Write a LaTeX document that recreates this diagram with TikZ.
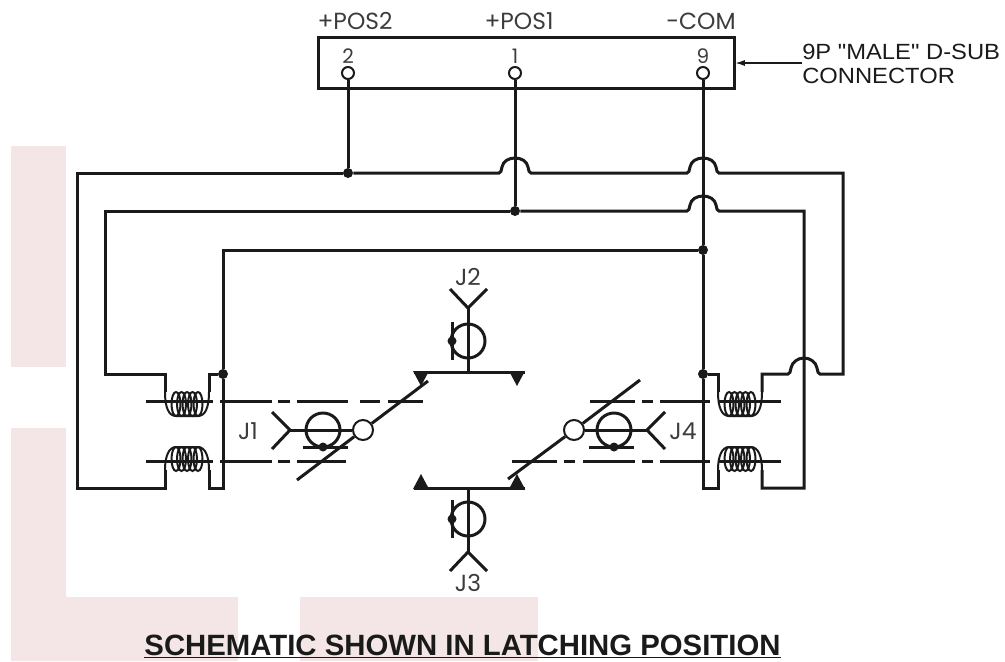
\documentclass[tikz,border=0pt]{standalone}
\usepackage{fontspec}
\setmainfont{Liberation Sans}
\newfontfamily\gothic{Poppins}
\newfontfamily\callout[FakeStretch=1.08]{Liberation Sans}
\usepackage{xcolor}
\usetikzlibrary{positioning,calc,arrows.meta}
\definecolor{blush}{HTML}{F4E6E6}
\definecolor{inkline}{HTML}{1A1A1A}
\newcommand{\hop}[2]{-- ({#1-16},#2) .. controls ({#1-14},#2) and ({#1-14},{#2-2}) .. ({#1-13},{#2-6}) .. controls ({#1-12},{#2-12}) and ({#1-6},{#2-15}) .. (#1,{#2-15}) .. controls ({#1+6},{#2-15}) and ({#1+12},{#2-12}) .. ({#1+13},{#2-6}) .. controls ({#1+14},{#2-2}) and ({#1+14},#2) .. ({#1+16},#2)}
\tikzset{
    wire/.style={inkline, line width=2.25pt},
    thin wire/.style={inkline, line width=1.5pt},
    junction/.style={circle, fill=inkline, inner sep=0pt, minimum size=7.5pt},
    pinhole/.style={circle, draw=inkline, fill=white, line width=1.5pt, inner sep=0pt, minimum size=9pt},
    pivot/.style={circle, draw=inkline, fill=white, line width=1.5pt, inner sep=0pt, minimum size=15pt},
    gothiclabel/.style={inkline!85, font=\gothic\fontsize{17.5}{18}\selectfont, inner sep=0pt},
    pinlabel/.style={inkline!85, font=\gothic\fontsize{15}{16}\selectfont, inner sep=0pt},
}
\begin{document}
\begin{tikzpicture}[x=0.75pt, y=-0.75pt]
    \useasboundingbox (0,0) rectangle (1005,661);

    % Background patches
    \fill[blush] (11,146) rectangle (66,367);
    \fill[blush] (11,428) -- (66,428) -- (66,597) -- (238,597) -- (238,661) -- (11,661) -- cycle;
    \fill[blush] (300,597) rectangle (538,661);

    % D-sub connector
    \node[draw=inkline, line width=2.25pt, minimum width=312pt, minimum height=38pt, inner sep=0pt] (dsub) at (526,63) {};
    \node[pinhole] (pintwo) at (348,73) {};
    \node[pinhole] (pinone) at (515,73) {};
    \node[pinhole] (pinnine) at (703,73) {};
    \node[pinlabel] (numtwo) at (348,56) {2};
    \node[pinlabel] (numone) at (515,56) {1};
    \node[pinlabel] (numnine) at (703,56) {9};
    \node[gothiclabel] (lblpostwo) at (355,21) {+POS2};
    \node[gothiclabel] (lblposone) at (519,21) {+POS1};
    \node[gothiclabel] (lblcom) at (701,21) {-COM};

    % Connector callout
    \node[anchor=west, inkline, font=\callout\fontsize{16.5}{18}\selectfont, align=left, inner sep=0pt] (lbldsub) at (802,64) {9P "MALE" D-SUB\\CONNECTOR};
    \draw[inkline, line width=0.8pt, -{Latex[length=7pt,width=4.5pt]}] (lbldsub.west |- dsub) -- (dsub.east);

    % Junctions
    \node[junction] (jtwo) at (348,173) {};
    \node[junction] (jone) at (515,211) {};
    \node[junction] (jcom) at (703,250) {};
    \node[junction] (jcomlow) at (703,374) {};
    \node[junction] (jleft) at (223,374) {};

    % Pin wires
    \draw[wire] (pintwo) -- (jtwo);
    \draw[wire] (pinone) -- (jone);
    \draw[wire] (pinnine) -- (jcom);
    \draw[wire] (jcom) -- (jcomlow);
    \draw[wire] (jcomlow) -- (703,488) -- (718,488) -- (718,470);

    % Outer wire, +POS2
    \draw[wire] (jtwo) -| (77,488) -- (165,488) -- (165,470);
    \draw[wire] (jtwo) \hop{515}{173} \hop{703}{173} -- (843,173) -- (843,374) -- (820,374)
        .. controls (818,374) and (818,372) .. (817,368) .. controls (816,362) and (810,358) .. (804,358)
        .. controls (798,358) and (792,362) .. (791,368) .. controls (790,372) and (790,374) .. (788,374)
        -- (762,374) -- (762,392);

    % Middle wire, +POS1
    \draw[wire] (jone) -| (105,374) -- (165,374) -- (165,392);
    \draw[wire] (jone) \hop{703}{211} -- (804,211) -- (804,488) -- (762,488) -- (762,470);

    % Inner wire, -COM
    \draw[wire] (jcom) -| (jleft);
    \draw[wire] (jleft) -- (223,488) -- (209,488) -- (209,470);
    \draw[wire] (jleft) -- (209,374) -- (209,392);
    \draw[wire] (jcomlow) -- (718,374) -- (718,392);

    % Coils
    \foreach \cx/\lx/\rx in {0/165/209, 553/718/762} {
        \foreach \n in {0,1,2,3,4} {
            \draw[thin wire] ({\cx+176+\n*5.5},404) ellipse (4.5 and 12);
            \draw[thin wire] ({\cx+176+\n*5.5},459) ellipse (4.5 and 12);
        }
        \draw[thin wire] (\lx,392) .. controls (\lx,408) and (\lx+4,416) .. (\lx+11,416) -- (\rx-11,416) .. controls (\rx-4,416) and (\rx,408) .. (\rx,392);
        \draw[thin wire] (\lx,470) .. controls (\lx,456) and (\lx+4,447) .. (\lx+11,447) -- (\rx-11,447) .. controls (\rx-4,447) and (\rx,456) .. (\rx,470);
    }

    % Core lines
    \foreach \xa/\xb in {146/213, 220/272, 278/290, 297/348, 360/380, 388/423, 590/635, 642/653, 660/710, 718/781} {
        \draw[wire] (\xa,401) -- (\xb,401);
    }
    \foreach \xa/\xb in {146/213, 220/272, 278/290, 297/346, 512/557, 564/575, 583/635, 642/653, 660/710, 718/781} {
        \draw[wire] (\xa,461) -- (\xb,461);
    }

    % J1 and J4 actuators
    \foreach \mx/\sx/\tag in {0/1/one, 937/-1/four} {
        \node[pivot] (pivot\tag) at ({\mx+\sx*363},430) {};
        \draw[wire] ({\mx+\sx*272},412) -- ({\mx+\sx*290},430) -- ({\mx+\sx*272},449);
        \draw[wire] ({\mx+\sx*290},430) -- (pivot\tag);
        \draw[wire] ({\mx+\sx*323},430) circle (17);
        \draw[wire] ({\mx+\sx*303},447) -- ({\mx+\sx*348},447);
        \fill[inkline] ({\mx+\sx*323},447) circle (4.5);
    }

    % J2 and J3 actuators
    \foreach \ty/\sy/\tag in {0/1/two, 860/-1/three} {
        \coordinate (fork\tag) at (468,{\ty+\sy*308});
        \coordinate (bar\tag) at (468,{\ty+\sy*372});
        \draw[wire] (450,{\ty+\sy*289}) -- (fork\tag) -- (487,{\ty+\sy*289});
        \draw[wire] (fork\tag) -- (bar\tag);
        \draw[wire] (468,{\ty+\sy*341}) circle (17);
        \draw[wire] (452,{\ty+\sy*322}) -- (452,{\ty+\sy*360});
        \fill[inkline] (452,{\ty+\sy*341}) circle (4.5);
        \draw[wire] (414,{\ty+\sy*372}) -- (525,{\ty+\sy*372});
        \fill[inkline] (413,{\ty+\sy*371}) -- (429,{\ty+\sy*371}) -- (421,{\ty+\sy*386}) -- cycle;
        \fill[inkline] (509,{\ty+\sy*371}) -- (525,{\ty+\sy*371}) -- (517,{\ty+\sy*386}) -- cycle;
    }

    % Switch arms
    \draw[wire] (297,480) -- (pivotone);
    \draw[wire] (pivotone) -- (428,381);
    \draw[wire] (508,479) -- (pivotfour);
    \draw[wire] (pivotfour) -- (640,380);

    % Port labels
    \node[gothiclabel] (lblone) at (248,431) {J1};
    \node[gothiclabel] (lblfour) at (683,431) {J4};
    \node[gothiclabel] (lbltwo) at (468,277) {J2};
    \node[gothiclabel] (lblthree) at (468,583) {J3};

    % Title
    \node[anchor=base, inkline, font=\bfseries\fontsize{22}{24}\selectfont, inner sep=0pt] (title) at (462.5,655) {\underline{SCHEMATIC SHOWN IN LATCHING POSITION}};
\end{tikzpicture}
\end{document}
